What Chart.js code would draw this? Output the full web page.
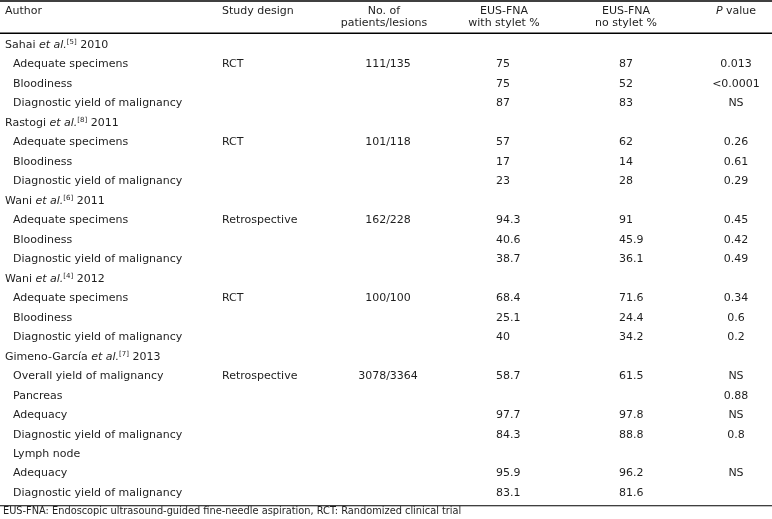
<!DOCTYPE html>
<html>
<head>
<meta charset="utf-8">
<script src="https://cdn.jsdelivr.net/npm/chart.js@4/dist/chart.umd.min.js"></script>
<style>
  body { margin: 0; background: #fff; }
  #wrap { width: 772px; height: 519px; position: relative; }
</style>
</head>
<body>
<div id="wrap"><canvas id="tbl"></canvas></div>
<script>
// table content
const studies = ["Sahai", "Rastogi", "Wani", "Wani", "Gimeno-García"]
const studyRefs = ["[5]", "[8]", "[6]", "[4]", "[7]"]
const studyYears = ["2010", "2011", "2011", "2012", "2013"]
const studyDesign = ["RCT", "RCT", "Retrospective", "RCT", "Retrospective"]
const studyPatients = ["111/135", "101/118", "162/228", "100/100", "3078/3364"]
const outcomeLabels = [
     ["Adequate specimens", "Bloodiness", "Diagnostic yield of malignancy"],
     ["Adequate specimens", "Bloodiness", "Diagnostic yield of malignancy"],
     ["Adequate specimens", "Bloodiness", "Diagnostic yield of malignancy"],
     ["Adequate specimens", "Bloodiness", "Diagnostic yield of malignancy"],
     ["Overall yield of malignancy", "Pancreas", "Adequacy", "Diagnostic yield of malignancy", "Lymph node", "Adequacy", "Diagnostic yield of malignancy"]
]
const withStylet = [[75, 75, 87], [57, 17, 23], [94.3, 40.6, 38.7], [68.4, 25.1, 40], [58.7, null, 97.7, 84.3, null, 95.9, 83.1]]
const noStylet = [[87, 52, 83], [62, 14, 28], [91, 45.9, 36.1], [71.6, 24.4, 34.2], [61.5, null, 97.8, 88.8, null, 96.2, 81.6]]
const pValues = [["0.013", "<0.0001", "NS"], ["0.26", "0.61", "0.29"], ["0.45", "0.42", "0.49"], ["0.34", "0.6", "0.2"], ["NS", "0.88", "NS", "0.8", null, "NS", null]]
const footnote = "EUS-FNA: Endoscopic ultrasound-guided fine-needle aspiration, RCT: Randomized clinical trial"

// layout: column anchors on x scale, header/rule rows on y scale (row units)
const col = { author: 5, outcome: 13, design: 222, patients: 388, withS: 496, noS: 619, p: 736 }
const headRow1 = -1.74
const headRow2 = -1.12
const ruleRows = [-2.26, -0.6, 23.65]
const footRow = 23.93

const FONT = "DejaVu Sans"
const INK = "#1e1e1e"

// build cells
const authorCells = [], outcomeCells = [], designCells = [], patientCells = [], withCells = [], noCells = [], pCells = []
let row = 0
studies.forEach(function (name, s) {
     authorCells.push({ x: col.author, y: row, rich: [[name + " ", ""], ["et al.", "italic"], [studyRefs[s], "sup"], [" " + studyYears[s], ""]] })
     row++
     outcomeLabels[s].forEach(function (label, k) {
          outcomeCells.push({ x: col.outcome, y: row, t: label })
          if (k === 0) {
               designCells.push({ x: col.design, y: row, t: studyDesign[s] })
               patientCells.push({ x: col.patients, y: row, t: studyPatients[s] })
          }
          if (withStylet[s][k] !== null) withCells.push({ x: col.withS, y: row, t: String(withStylet[s][k]) })
          if (noStylet[s][k] !== null) noCells.push({ x: col.noS, y: row, t: String(noStylet[s][k]) })
          if (pValues[s][k] !== null) pCells.push({ x: col.p, y: row, t: pValues[s][k] })
          row++
     })
})

const headerCells = [
     { x: col.author, y: headRow1, t: "Author", align: "left" },
     { x: col.design, y: headRow1, t: "Study design", align: "left" },
     { x: 384, y: headRow1, t: "No. of", align: "center" },
     { x: 384, y: headRow2, t: "patients/lesions", align: "center" },
     { x: 504, y: headRow1, t: "EUS-FNA", align: "center" },
     { x: 504, y: headRow2, t: "with stylet %", align: "center" },
     { x: 626, y: headRow1, t: "EUS-FNA", align: "center" },
     { x: 626, y: headRow2, t: "no stylet %", align: "center" },
     { x: col.p, y: headRow1, rich: [["P", "italic"], [" value", ""]], align: "center" }
]

const textSet = function (cells, align, size) {
     return { type: "scatter", data: cells, cellAlign: align, cellSize: size || 11, pointRadius: 0, showLine: false }
}
const ruleSet = function (y, w) {
     return { type: "line", data: [{ x: 0, y: y }, { x: 772, y: y }], borderColor: "#000", borderWidth: w, pointRadius: 0 }
}

const fontFor = function (style, size) {
     if (style === "italic") return "italic " + size + "px '" + FONT + "'"
     if (style === "sup") return Math.round(size * 0.65) + "px '" + FONT + "'"
     return size + "px '" + FONT + "'"
}

const cellText = {
     id: "cellText",
     afterDatasetsDraw(chart) {
          const ctx = chart.ctx
          ctx.save()
          ctx.fillStyle = INK
          ctx.textBaseline = "middle"
          chart.data.datasets.forEach(function (ds, i) {
               if (!ds.cellAlign) return
               const meta = chart.getDatasetMeta(i)
               meta.data.forEach(function (pt, j) {
                    const cell = ds.data[j]
                    const align = cell.align || ds.cellAlign
                    const size = ds.cellSize
                    if (cell.rich) {
                         let w = 0
                         cell.rich.forEach(function (seg) { ctx.font = fontFor(seg[1], size); w += ctx.measureText(seg[0]).width })
                         let x = align === "center" ? pt.x - w / 2 : pt.x
                         ctx.textAlign = "left"
                         cell.rich.forEach(function (seg) {
                              ctx.font = fontFor(seg[1], size)
                              ctx.fillText(seg[0], x, seg[1] === "sup" ? pt.y - 3 : pt.y)
                              x += ctx.measureText(seg[0]).width
                         })
                    } else {
                         ctx.font = fontFor("", size)
                         ctx.textAlign = align
                         ctx.fillText(cell.t, pt.x, pt.y)
                    }
               })
          })
          ctx.restore()
     }
}

new Chart(document.getElementById("tbl"), {
     data: {
          datasets: [
               ruleSet(ruleRows[0], 1.5), ruleSet(ruleRows[1], 1.5), ruleSet(ruleRows[2], 1.2),
               textSet(headerCells, "left"),
               textSet(authorCells, "left"),
               textSet(outcomeCells, "left"),
               textSet(designCells, "left"),
               textSet(patientCells, "center"),
               textSet(withCells, "left"),
               textSet(noCells, "left"),
               textSet(pCells, "center"),
               textSet([{ x: 3, y: footRow, t: footnote }], "left", 9.8)
          ]
     },
     options: {
          responsive: true,
          maintainAspectRatio: false,
          animation: false,
          clip: false,
          layout: { padding: 0 },
          plugins: { legend: { display: false }, tooltip: { enabled: false } },
          scales: {
               x: { type: "linear", display: false, min: 0, max: 772 },
               y: { type: "linear", display: false, min: -2.31, max: 24.33, reverse: true }
          }
     },
     plugins: [cellText]
})
</script>
</body>
</html>
